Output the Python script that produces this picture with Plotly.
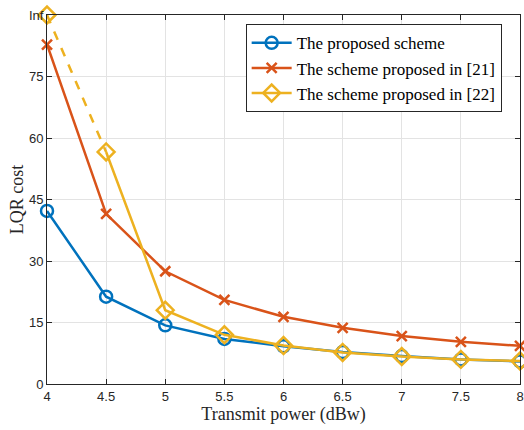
import plotly.graph_objects as go

power = [4, 4.5, 5, 5.5, 6, 6.5, 7, 7.5, 8]
proposed = [42.2, 21.3, 14.3, 11.0, 9.2, 7.8, 6.8, 6.0, 5.5]
scheme21 = [82.8, 41.5, 27.5, 20.5, 16.4, 13.7, 11.7, 10.3, 9.3]
INF_Y = 90
scheme22 = [INF_Y, 56.6, 18.0, 12.0, 9.4, 7.7, 6.7, 6.0, 5.6]

y_ticks = [0, 15, 30, 45, 60, 75, INF_Y]
y_ticktext = ["0", "15", "30", "45", "60", "75", "Inf"]
x_ticks = [4, 4.5, 5, 5.5, 6, 6.5, 7, 7.5, 8]

BLUE = "#0072BD"
ORANGE = "#D95319"
YELLOW = "#EDB120"
SERIF = "Liberation Serif, Times New Roman, serif"

fig = go.Figure()

# dashed segment to infinity
fig.add_trace(go.Scatter(x=power[:2], y=scheme22[:2], mode="lines",
                         line=dict(color=YELLOW, width=2.5, dash="dash"),
                         showlegend=False, hoverinfo="skip"))
fig.add_trace(go.Scatter(x=power[:1], y=scheme22[:1], mode="markers",
                         marker=dict(symbol="diamond-open", size=13, color=YELLOW,
                                     line=dict(width=2.5, color=YELLOW)),
                         showlegend=False, cliponaxis=False))

fig.add_trace(go.Scatter(x=power, y=proposed, mode="lines+markers",
                         name="The proposed scheme",
                         line=dict(color=BLUE, width=2.5),
                         marker=dict(symbol="circle-open", size=12, color=BLUE,
                                     line=dict(width=2.5, color=BLUE)),
                         cliponaxis=False))
fig.add_trace(go.Scatter(x=power, y=scheme21, mode="lines+markers",
                         name="The scheme proposed in [21]",
                         line=dict(color=ORANGE, width=2.5),
                         marker=dict(symbol="x-thin-open", size=10, color=ORANGE,
                                     line=dict(width=2.5, color=ORANGE)),
                         cliponaxis=False))
fig.add_trace(go.Scatter(x=power[1:], y=scheme22[1:], mode="lines+markers",
                         name="The scheme proposed in [22]",
                         line=dict(color=YELLOW, width=2.5),
                         marker=dict(symbol="diamond-open", size=13, color=YELLOW,
                                     line=dict(width=2.5, color=YELLOW)),
                         cliponaxis=False))

axis_common = dict(showgrid=True, gridcolor="#E3E3E3", gridwidth=1,
                   showline=True, linecolor="#262626", linewidth=1, mirror="ticks",
                   ticks="inside", ticklen=5, tickcolor="#262626",
                   tickfont=dict(family="Liberation Sans, Arial", size=13, color="#262626"),
                   zeroline=False, automargin=False)

fig.update_layout(
    width=524, height=430,
    margin=dict(l=47, r=4, t=15, b=46),
    paper_bgcolor="white", plot_bgcolor="white",
    xaxis=dict(range=[4, 8], tickvals=x_ticks, ticktext=[str(v) for v in x_ticks],
               title=dict(text="Transmit power (dBw)", standoff=2,
                          font=dict(family=SERIF, size=18, color="#262626")),
               **axis_common),
    yaxis=dict(range=[0, INF_Y], tickvals=y_ticks, ticktext=y_ticktext,
               title=dict(text="LQR cost", standoff=0,
                          font=dict(family=SERIF, size=18, color="#262626")),
               **axis_common),
    legend=dict(x=0.42, y=0.975, xanchor="left", yanchor="top",
                bgcolor="white", bordercolor="#262626", borderwidth=1,
                font=dict(family=SERIF, size=17, color="black"),
                tracegroupgap=0, itemwidth=40),
    showlegend=True,
)

fig.write_html("out.html", config={"displayModeBar": False},
               post_script="document.body.style.margin='0';document.body.style.overflow='hidden';")
